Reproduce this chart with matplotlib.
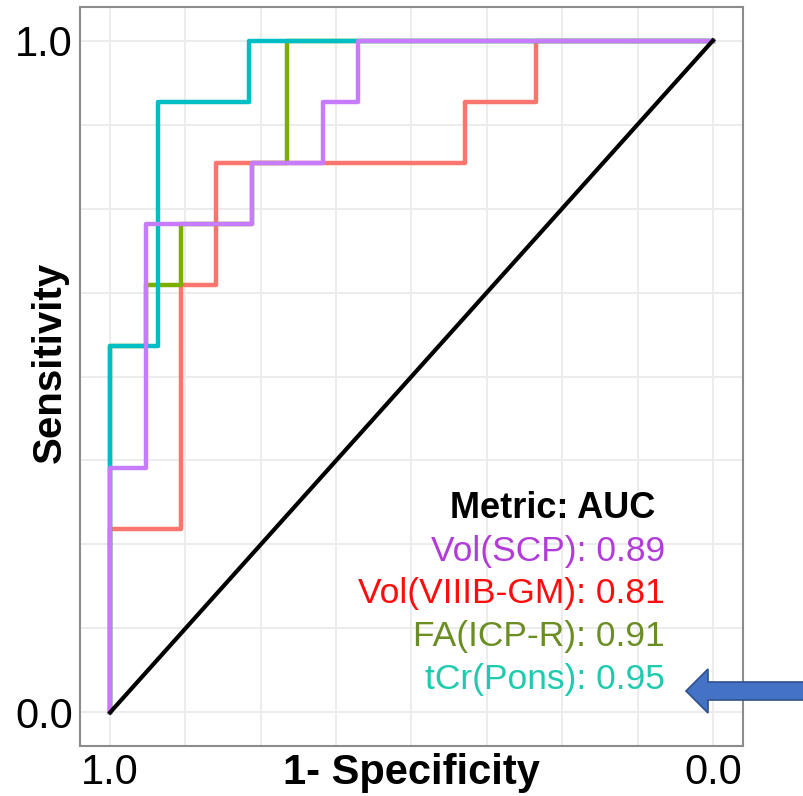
import matplotlib
matplotlib.use("Agg")
import matplotlib.pyplot as plt
from matplotlib.patches import Polygon

plt.rcParams["font.family"] = ["Liberation Sans", "DejaVu Sans"]

# ROC step curves: specificity (x, drawn reversed) and sensitivity (y)
red_spec = [1.0, 1.0, 0.882, 0.882, 0.824, 0.824, 0.412, 0.412, 0.294, 0.294, 0.0]
red_sens = [0.0, 0.273, 0.273, 0.636, 0.636, 0.818, 0.818, 0.909, 0.909, 1.0, 1.0]

green_spec = [1.0, 1.0, 0.941, 0.941, 0.882, 0.882, 0.765, 0.765, 0.706, 0.706, 0.0]
green_sens = [0.0, 0.545, 0.545, 0.636, 0.636, 0.727, 0.727, 0.818, 0.818, 1.0, 1.0]

cyan_spec = [1.0, 1.0, 0.92, 0.92, 0.769, 0.769, 0.0]
cyan_sens = [0.0, 0.545, 0.545, 0.909, 0.909, 1.0, 1.0]

purple_spec = [1.0, 1.0, 0.941, 0.941, 0.765, 0.765, 0.647, 0.647, 0.588, 0.588, 0.0]
purple_sens = [0.0, 0.364, 0.364, 0.727, 0.727, 0.818, 0.818, 0.909, 0.909, 1.0, 1.0]

auc_labels = ["Vol(SCP): 0.89", "Vol(VIIIB-GM): 0.81", "FA(ICP-R): 0.91", "tCr(Pons): 0.95"]
auc_colors = ["#B23CD8", "#FF0D0D", "#6B8E23", "#1FCBAE"]

fig = plt.figure(figsize=(8.04, 7.96), dpi=100)
ax = fig.add_axes([80 / 804, 50 / 796, 663 / 804, 739 / 796])

# grid every 0.125
ticks = [i * 0.125 for i in range(9)]
for t in ticks:
    ax.axvline(t, color="#EBEBEB", lw=1.3, zorder=0)
    ax.axhline(t, color="#EBEBEB", lw=1.3, zorder=0)

ax.plot(red_spec, red_sens, color="#F8766D", lw=3.2, zorder=2)
ax.plot(green_spec, green_sens, color="#7CAE00", lw=3.2, zorder=3)
ax.plot(cyan_spec, cyan_sens, color="#00BFC4", lw=3.2, zorder=4)
ax.plot(purple_spec, purple_sens, color="#C77CFF", lw=3.2, zorder=5)
ax.plot([1, 0], [0, 1], color="black", lw=3.0, zorder=6)

ax.set_xlim(1.05, -0.05)
ax.set_ylim(-0.05, 1.05)
ax.set_xticks([1.0, 0.0])
ax.set_xticklabels(["1.0", "0.0"])
ax.set_yticks([0.0, 1.0])
ax.set_yticklabels(["0.0", "1.0"])
ax.tick_params(length=0, labelsize=30, pad=5, colors="black")

for s in ax.spines.values():
    s.set_color("#8C8C8C")
    s.set_linewidth(1.5)

# axis titles placed in figure coords so they stay inside the canvas
fig.text(411 / 804, 1 - 773 / 796, "1- Specificity", fontsize=30,
         fontweight="bold", ha="center", va="center")
fig.text(50 / 804, 1 - 362 / 796, "Sensitivity", fontsize=29,
         fontweight="bold", ha="center", va="center", rotation=90)

# AUC annotation
ax.text(0.095, 0.303, "Metric: AUC", fontsize=26, fontweight="bold",
        ha="right", va="center", color="black", zorder=7)
y0 = 0.24
for i, (lab, col) in enumerate(zip(auc_labels, auc_colors)):
    ax.text(0.08, y0 - i * 0.0635, lab, fontsize=25.5, ha="right", va="center",
            color=col, zorder=7)

# blue arrow pointing at the tCr(Pons) label
H = 796
pts = [(686, 691), (708, 669), (708, 682), (804, 682),
       (804, 700), (708, 700), (708, 713)]
verts = [(x / 804, (H - y) / H) for x, y in pts]
fig.patches.append(Polygon(verts, closed=True, transform=fig.transFigure,
                           facecolor="#4472C4", edgecolor="#2F528F", lw=1.2))

fig.savefig("out.png", dpi=100)
